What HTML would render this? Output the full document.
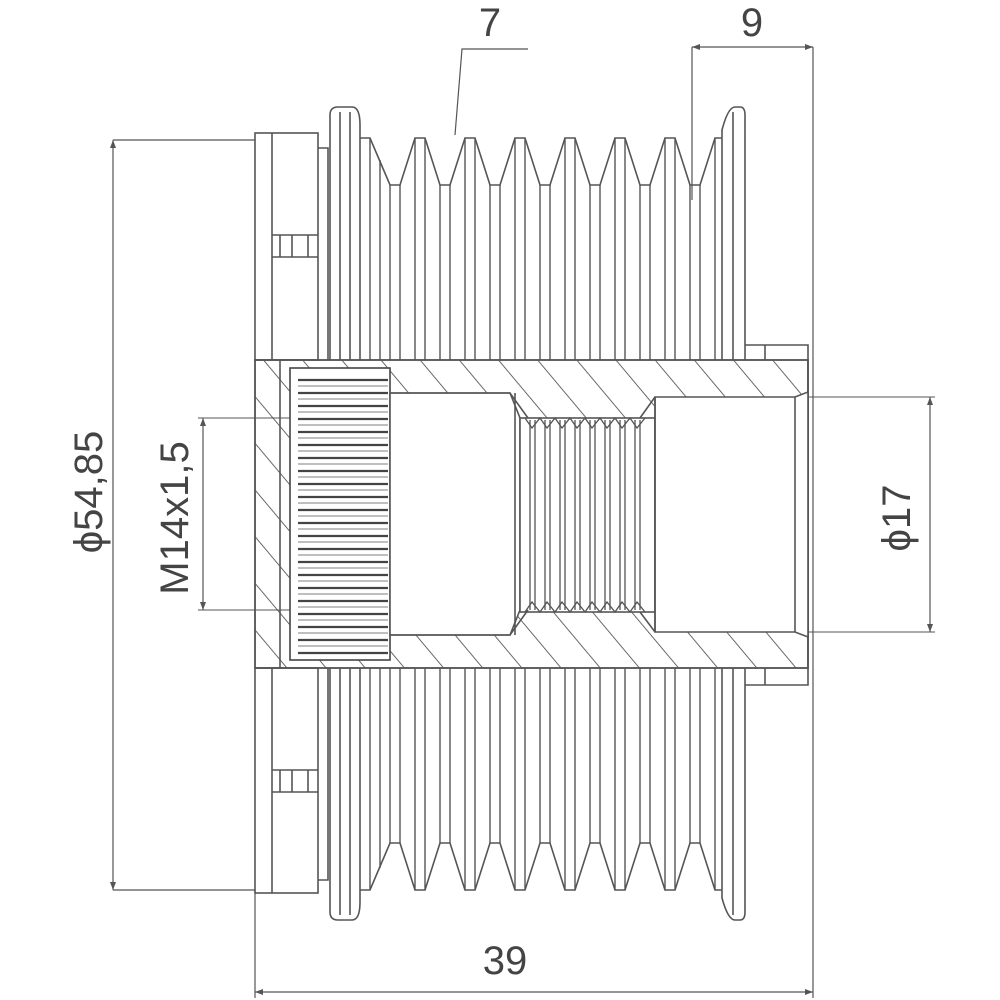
<!DOCTYPE html>
<html><head><meta charset="utf-8"><style>
html,body{margin:0;padding:0;background:#fff}
svg{display:block}
text{font-family:"Liberation Sans",sans-serif;fill:#444}
</style></head><body>
<svg width="1000" height="1000" viewBox="0 0 1000 1000" xmlns="http://www.w3.org/2000/svg">
<defs>
<pattern id="h" patternUnits="userSpaceOnUse" width="30" height="30" patternTransform="rotate(-40)">
<line x1="0" y1="0" x2="0" y2="30" stroke="#444" stroke-width="1.6"/>
</pattern>
</defs>
<g stroke="#555" stroke-width="1.6" fill="none">
<line x1="113" y1="140" x2="113" y2="890" stroke-width="1.2"/>
<line x1="113" y1="140" x2="255" y2="140" stroke-width="1.2"/>
<line x1="113" y1="890" x2="255" y2="890" stroke-width="1.2"/>
<line x1="203" y1="418" x2="203" y2="610" stroke-width="1.2"/>
<line x1="198" y1="418" x2="520" y2="418" stroke-width="1"/>
<line x1="198" y1="610" x2="520" y2="610" stroke-width="1"/>
<line x1="930" y1="397" x2="930" y2="632" stroke-width="1.2"/>
<line x1="790" y1="397" x2="935" y2="397" stroke-width="1"/>
<line x1="790" y1="632" x2="935" y2="632" stroke-width="1"/>
<line x1="255" y1="890" x2="255" y2="998" stroke-width="1.2"/>
<line x1="813" y1="47" x2="813" y2="998" stroke-width="1.2"/>
<line x1="255" y1="992" x2="813" y2="992" stroke-width="1.2"/>
<line x1="692" y1="47" x2="813" y2="47" stroke-width="1.2"/>
<line x1="692" y1="47" x2="692" y2="200" stroke-width="1.2"/>
<polyline points="528,49 462,49 455,135" stroke-width="1.2"/>
<rect x="255" y="133" width="63" height="227"/>
<line x1="272" y1="133" x2="272" y2="360"/>
<rect x="255" y="668" width="63" height="225"/>
<line x1="272" y1="668" x2="272" y2="893"/>
<path d="M272 235 H318 M272 257 H318 M280 235 V257 M292 235 V257 M308 235 V257"/>
<path d="M272 770 H318 M272 792 H318 M280 770 V792 M292 770 V792 M308 770 V792"/>
<path d="M318 148 H328 V360 M318 880 H328 V668"/>
<path d="M330 360 V115 Q330 107 338 107 H352 Q360 107 360 125 V360"/>
<path d="M330 668 V912 Q330 920 338 920 H352 Q360 920 360 902 V668"/>
<line x1="340" y1="112" x2="340" y2="360"/><line x1="350" y1="112" x2="350" y2="360"/>
<line x1="340" y1="668" x2="340" y2="915"/><line x1="350" y1="668" x2="350" y2="915"/>
<path d="M722 360 V130 Q728 107 735 107 H740 Q745 107 745 115 V360"/>
<path d="M722 668 V898 Q728 920 735 920 H740 Q745 920 745 912 V668"/>
<line x1="733" y1="112" x2="733" y2="360"/><line x1="733" y1="668" x2="733" y2="915"/>
<path d="M360 138 H370 L390 185 H400 L415 138 H425 L440 185 H450 L465 138 H475 L490 185 H500 L515 138 H525 L540 185 H550 L565 138 H575 L590 185 H600 L615 138 H625 L640 185 H650 L665 138 H675 L690 185 H700 L715 138 H722"/>
<path d="M360 890 H370 L390 843 H400 L415 890 H425 L440 843 H450 L465 890 H475 L490 843 H500 L515 890 H525 L540 843 H550 L565 890 H575 L590 843 H600 L615 890 H625 L640 843 H650 L665 890 H675 L690 843 H700 L715 890 H722"/>
<g stroke-width="1.4">
<path d="M370 138V360 M380 160V360 M390 185V360 M400 185V360 M415 138V360 M425 138V360 M440 185V360 M450 185V360 M465 138V360 M475 138V360 M490 185V360 M500 185V360 M515 138V360 M525 138V360 M540 185V360 M550 185V360 M565 138V360 M575 138V360 M590 185V360 M600 185V360 M615 138V360 M625 138V360 M640 185V360 M650 185V360 M665 138V360 M675 138V360 M690 185V360 M700 185V360 M715 138V360"/>
<path d="M370 890V668 M380 868V668 M390 843V668 M400 843V668 M415 890V668 M425 890V668 M440 843V668 M450 843V668 M465 890V668 M475 890V668 M490 843V668 M500 843V668 M515 890V668 M525 890V668 M540 843V668 M550 843V668 M565 890V668 M575 890V668 M590 843V668 M600 843V668 M615 890V668 M625 890V668 M640 843V668 M650 843V668 M665 890V668 M675 890V668 M690 843V668 M700 843V668 M715 890V668"/>
</g>
<path d="M745 345 H808 V685 H745" />
<line x1="765" y1="345" x2="765" y2="360"/><line x1="765" y1="668" x2="765" y2="685"/>
<rect x="255" y="360" width="553" height="308" fill="url(#h)"/>
<rect x="255" y="360" width="553" height="308"/>
<rect x="290" y="368" width="100" height="292" fill="#fff" stroke="#444"/>
<path d="M390 393 H510 L520 418 V610 L510 635 H390 Z" fill="#fff"/>
<rect x="520" y="418" width="135" height="194" fill="#fff"/>
<path d="M655 397 H795 L808 392 V637 L795 632 H655 Z" fill="#fff"/>
<line x1="655" y1="397" x2="655" y2="632"/>
<line x1="795" y1="397" x2="795" y2="632"/>
<line x1="515" y1="393" x2="515" y2="635"/>
<path d="M390 393 H510 L528 418 M390 635 H510 L528 610"/>
<path d="M640 418 L655 397 M640 612 L655 632"/>
<line x1="280" y1="360" x2="280" y2="668"/>
</g>
<g stroke="#444" stroke-width="2.2" fill="none">
<path d="M298 380 H388 M298 393 H388 M298 406 H388 M298 419 H388 M298 432 H388 M298 445 H388 M298 458 H388 M298 471 H388 M298 484 H388 M298 497 H388 M298 510 H388 M298 523 H388 M298 536 H388 M298 549 H388 M298 562 H388 M298 575 H388 M298 588 H388 M298 601 H388 M298 614 H388 M298 627 H388 M298 640 H388 M298 653 H388"/>
</g>
<g stroke="#999" stroke-width="1.2" fill="none">
<path d="M298 386 H388 M298 399 H388 M298 412 H388 M298 425 H388 M298 438 H388 M298 451 H388 M298 464 H388 M298 477 H388 M298 490 H388 M298 503 H388 M298 516 H388 M298 529 H388 M298 542 H388 M298 555 H388 M298 568 H388 M298 581 H388 M298 594 H388 M298 607 H388 M298 620 H388 M298 633 H388 M298 646 H388"/>
</g>
<g stroke="#555" stroke-width="1.3" fill="none">
<path d="M530 420 V610 M535 420 V610 M545 420 V610 M550 420 V610 M560 420 V610 M565 420 V610 M575 420 V610 M580 420 V610 M590 420 V610 M595 420 V610 M605 420 V610 M610 420 V610 M620 420 V610 M625 420 V610 M635 420 V610 M640 420 V610"/>
<path d="M525 418 L532 428 L540 418 L547 428 L555 418 L562 428 L570 418 L577 428 L585 418 L592 428 L600 418 L607 428 L615 418 L622 428 L630 418 L637 428 L645 418"/>
<path d="M525 612 L532 602 L540 612 L547 602 L555 612 L562 602 L570 612 L577 602 L585 612 L592 602 L600 612 L607 602 L615 612 L622 602 L630 612 L637 602 L645 612"/>
</g>
<g fill="#555">
<path d="M255 992 l8 -3 v6z M813 992 l-8 -3 v6z M692 47 l8 -3 v6z M813 47 l-8 -3 v6z"/>
<path d="M113 140 l-3 8 h6z M113 890 l-3 -8 h6z M203 418 l-3 8 h6z M203 610 l-3 -8 h6z M930 397 l-3 8 h6z M930 632 l-3 -8 h6z"/>
</g>
<text x="490" y="36" font-size="40" text-anchor="middle">7</text>
<text x="752" y="36" font-size="40" text-anchor="middle">9</text>
<text x="505" y="974" font-size="40" text-anchor="middle">39</text>
<text transform="translate(102,492) rotate(-90)" font-size="40" text-anchor="middle">ϕ54,85</text>
<text transform="translate(188,518) rotate(-90)" font-size="40" text-anchor="middle">M14x1,5</text>
<text transform="translate(910,518) rotate(-90)" font-size="40" text-anchor="middle">ϕ17</text>
</svg>
</body></html>
